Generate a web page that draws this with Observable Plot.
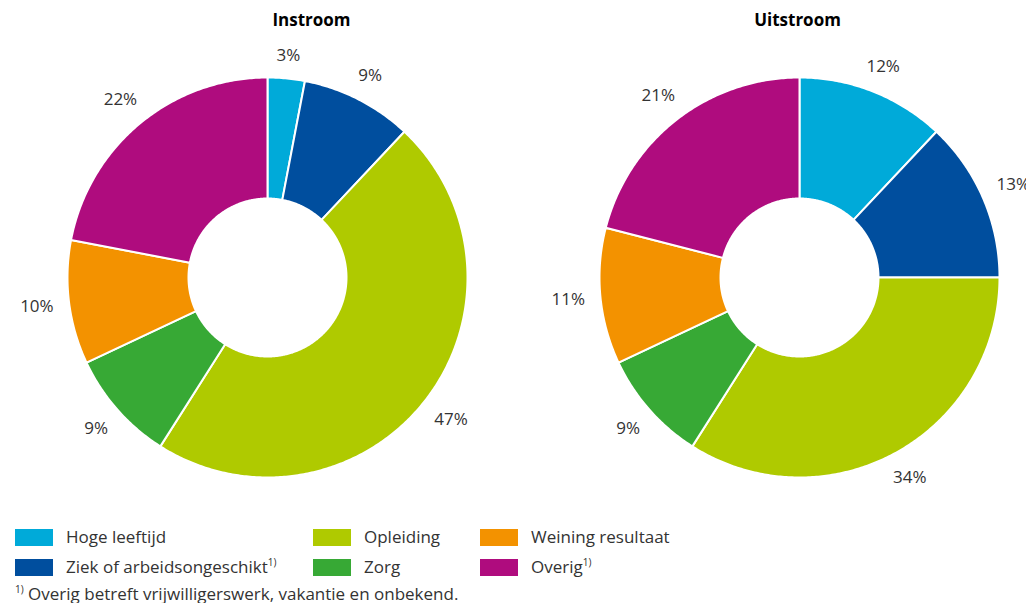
<!DOCTYPE html>
<html>
<head>
<meta charset="utf-8">
<script src="https://cdn.jsdelivr.net/npm/d3@7"></script>
<script src="https://cdn.jsdelivr.net/npm/@observablehq/plot@0.6"></script>
<style>
  html, body { margin: 0; padding: 0; background: #fff; }
  body { width: 1026px; height: 603px; overflow: hidden; position: relative; font-family: "Open Sans", sans-serif; color: #333; }
  #chart { position: absolute; left: 0; top: 0; }
  .legend { position: absolute; left: 0; top: 527px; width: 1026px; }
  .item { position: absolute; display: flex; align-items: center; font-size: 17px; line-height: 20px; white-space: nowrap; }
  .sw { width: 38px; height: 17px; margin-right: 13px; }
  sup { font-size: 10px; line-height: 0; vertical-align: 7px; }
  .note { position: absolute; left: 15px; top: 584px; font-size: 17px; line-height: 20px; white-space: nowrap; }
</style>
</head>
<body>
<div id="chart"></div>
<div class="legend" id="legend"></div>
<div class="note"><sup>1)</sup> Overig betreft vrijwilligerswerk, vakantie en onbekend.</div>
<script>
// ---- data ----
const categories = ["Hoge leeftijd", "Ziek of arbeidsongeschikt", "Opleiding", "Zorg", "Weining resultaat", "Overig"];
const colors = ["#00aad9", "#004e9e", "#afca00", "#37a935", "#f39200", "#af0c7e"];
const instroom = [3, 9, 47, 9, 10, 22];
const uitstroom = [12, 13, 34, 9, 11, 21];
const chartTitles = ["Instroom", "Uitstroom"];
const legendNotes = ["", "1)", "", "", "", "1)"];

// ---- layout (radius units; 1 unit = 200px) ----
const layout = {
  xDomain: [-1.335, 3.795],
  yDomain: [-1.14, 1.385],
  width: 1026,
  height: 505,
  centers: [0, 2.66],
  titleX: [0.22, 2.65],
  titleY: 1.285,
  rOuter: 1,
  rInner: 0.395,
  rLabelPx: 215,
  labelHalfHeightPx: 6.6,
  fontSize: 17
};
const pxPerUnit = layout.width / (layout.xDomain[1] - layout.xDomain[0]);

const ctx = document.createElement("canvas").getContext("2d");
ctx.font = `${layout.fontSize}px "Open Sans"`;

const series = [instroom, uitstroom];
const pts = [];
const labels = [];
series.forEach((vals, ci) => {
  const total = d3.sum(vals);
  let acc = 0;
  vals.forEach((v, i) => {
    const a0 = acc / total * 2 * Math.PI;
    acc += v;
    const a1 = acc / total * 2 * Math.PI;
    const n = Math.max(2, Math.ceil((a1 - a0) / 0.01));
    const id = ci + "-" + i;
    const cx = layout.centers[ci];
    for (let k = 0; k <= n; k++) {
      const a = a0 + (a1 - a0) * k / n;
      pts.push({id, cat: categories[i], x: cx + layout.rOuter * Math.sin(a), y: layout.rOuter * Math.cos(a)});
    }
    for (let k = n; k >= 0; k--) {
      const a = a0 + (a1 - a0) * k / n;
      pts.push({id, cat: categories[i], x: cx + layout.rInner * Math.sin(a), y: layout.rInner * Math.cos(a)});
    }
    const am = (a0 + a1) / 2;
    const text = v + "%";
    const hw = ctx.measureText(text).width / 2;
    const rPx = layout.rLabelPx + hw * Math.abs(Math.sin(am)) + layout.labelHalfHeightPx * Math.abs(Math.cos(am));
    const r = rPx / pxPerUnit;
    labels.push({x: cx + r * Math.sin(am), y: r * Math.cos(am), text});
  });
});
const titles = chartTitles.map((t, i) => ({x: layout.titleX[i], y: layout.titleY, text: t}));

const chart = Plot.plot({
  width: layout.width,
  height: layout.height,
  margin: 0,
  style: {fontFamily: "Open Sans, sans-serif", background: "white"},
  x: {domain: layout.xDomain, axis: null},
  y: {domain: layout.yDomain, axis: null},
  color: {domain: categories, range: colors},
  marks: [
    Plot.line(pts, {x: "x", y: "y", z: "id", fill: "cat", stroke: "white", strokeWidth: 2, curve: "linear-closed"}),
    Plot.text(labels, {x: "x", y: "y", text: "text", fontSize: layout.fontSize, fill: "#333"}),
    Plot.text(titles, {x: "x", y: "y", text: "text", fontSize: layout.fontSize, fontWeight: "bold", fill: "#000"})
  ]
});
document.getElementById("chart").appendChild(chart);

// legend (column-major, 3 columns x 2 rows)
const colX = [15, 313, 480];
const rowY = [0, 30];
const leg = document.getElementById("legend");
categories.forEach((c, i) => {
  const col = Math.floor(i / 2), row = i % 2;
  const div = document.createElement("div");
  div.className = "item";
  div.style.left = colX[col] + "px";
  div.style.top = rowY[row] + "px";
  const sw = document.createElement("span");
  sw.className = "sw";
  sw.style.background = colors[i];
  div.appendChild(sw);
  const lab = document.createElement("span");
  lab.textContent = c;
  if (legendNotes[i]) {
    const s = document.createElement("sup");
    s.textContent = legendNotes[i];
    lab.appendChild(s);
  }
  div.appendChild(lab);
  leg.appendChild(div);
});
</script>
</body>
</html>
